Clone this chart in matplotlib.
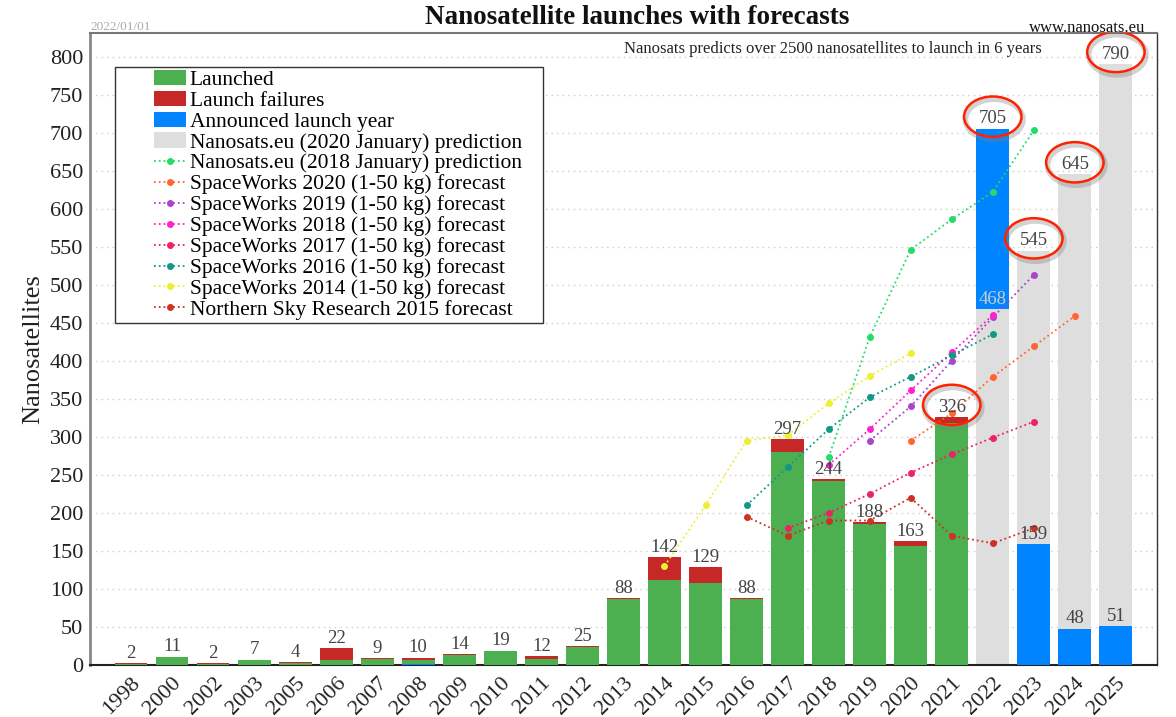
import numpy as np
import matplotlib
matplotlib.use("Agg")
import matplotlib.pyplot as plt
import matplotlib.patheffects as pe
from matplotlib.patches import Ellipse, Rectangle

plt.rcParams['font.family'] = ['Liberation Serif', 'DejaVu Serif']

years = ['1998', '2000', '2002', '2003', '2005', '2006', '2007', '2008', '2009',
         '2010', '2011', '2012', '2013', '2014', '2015', '2016', '2017', '2018',
         '2019', '2020', '2021', '2022', '2023', '2024', '2025']
launched = [1, 10, 1, 6, 3, 7, 8, 7, 13, 18, 8, 24, 87, 112, 108, 87, 280, 242,
            186, 157, 318, 0, 0, 0, 0]
failures = [1, 1, 1, 1, 1, 15, 1, 2, 1, 1, 4, 1, 1, 30, 21, 1, 17, 2, 2, 6, 8,
            0, 0, 0, 0]
announced = [0, 0, 0, 0, 0, 0, 0, 1, 0, 0, 0, 0, 0, 0, 0, 0, 0, 0, 0, 0, 0,
             705, 159, 48, 51]
predicted = [0] * 21 + [468, 545, 645, 790]

# forecast series, each starting at the given year
fc_nanosats18 = [273, 431, 546, 586, 622, 703]          # 2018-2023
fc_sw2020 = [295, 331, 379, 419, 459]                   # 2020-2024
fc_sw2019 = [295, 340, 400, 457, 513]                   # 2019-2023
fc_sw2018 = [263, 310, 361, 411, 460]                   # 2018-2022
fc_sw2017 = [180, 200, 225, 253, 277, 299, 320]         # 2017-2023
fc_sw2016 = [210, 260, 310, 352, 379, 407, 435]         # 2016-2022
fc_sw2014 = [130, 210, 295, 302, 344, 380, 410]         # 2014-2020
fc_nsr2015 = [195, 170, 190, 190, 220, 170, 160, 180]   # 2016-2023

forecasts = [
    ("Nanosats.eu (2018 January) prediction", "#22dd66", "2018", fc_nanosats18),
    ("SpaceWorks 2020 (1-50 kg) forecast", "#ff6633", "2020", fc_sw2020),
    ("SpaceWorks 2019 (1-50 kg) forecast", "#aa44cc", "2019", fc_sw2019),
    ("SpaceWorks 2018 (1-50 kg) forecast", "#ff22cc", "2018", fc_sw2018),
    ("SpaceWorks 2017 (1-50 kg) forecast", "#ee2266", "2017", fc_sw2017),
    ("SpaceWorks 2016 (1-50 kg) forecast", "#119988", "2016", fc_sw2016),
    ("SpaceWorks 2014 (1-50 kg) forecast", "#eeee33", "2014", fc_sw2014),
    ("Northern Sky Research 2015 forecast", "#cc3322", "2016", fc_nsr2015),
]
circled = ['2021', '2022', '2023', '2024', '2025']

GREEN, RED, BLUE, GREY = '#4caf50', '#c62828', '#0084ff', '#dedede'

x = np.arange(len(years))
launched = np.array(launched)
failures = np.array(failures)
announced = np.array(announced)
predicted = np.array(predicted)
past_total = launched + failures + announced

fig = plt.figure(figsize=(11.76, 7.17), dpi=100)
ax = fig.add_axes([0.0765, 0.0725, 0.9073, 0.8815])

w = 0.8
ax.bar(x, predicted, w, color=GREY, zorder=2, label="Nanosats.eu (2020 January) prediction")
ax.bar(x, launched, w, color=GREEN, zorder=3, label="Launched")
ax.bar(x, failures, w, bottom=launched, color=RED, zorder=3, label="Launch failures")
over = announced > predicted
ax.bar(x, announced - np.where(over, predicted, 0), w,
       bottom=np.where(over, predicted, launched + failures),
       color=BLUE, zorder=3, label="Announced launch year")

for label, col, start, vals in forecasts:
    i0 = years.index(start)
    xs = x[i0:i0 + len(vals)]
    ax.plot(xs, vals, linestyle=':', color=col, lw=1.3, marker='o',
            markersize=4, zorder=5, label=label)

# value labels
lab_kw = dict(ha='center', va='bottom', fontsize=13.5, color='#444444', zorder=6,
              textcoords='offset points', xytext=(0, 1))
tops = {}
for i, yr in enumerate(years):
    if predicted[i] == 0:
        tot = past_total[i]
        ax.annotate(str(tot), (i, tot), **lab_kw)
        tops[yr] = tot
    else:
        top = max(predicted[i], announced[i])
        ax.annotate(str(top), (i, top), **lab_kw)
        low = min(predicted[i], announced[i])
        kw = dict(lab_kw)
        if over[i]:
            kw['color'] = '#cccccc'
        ax.annotate(str(low), (i, low), **kw)
        tops[yr] = top

for yr in circled:
    i = years.index(yr)
    e = Ellipse((i, tops[yr] + 16), 1.4, 53, fill=False, edgecolor='#ff2200',
                lw=1.8, zorder=7,
                path_effects=[pe.SimpleLineShadow(offset=(1, -2), shadow_color='gray',
                                                  alpha=0.35, linewidth=4), pe.Normal()])
    ax.add_patch(e)

ax.set_xlim(-1, 25)
ax.set_ylim(0, 831)
ax.set_yticks(np.arange(0, 801, 50))
ax.set_xticks(x)
ax.set_xticklabels(years, rotation=45, ha='right', rotation_mode='anchor')
ax.tick_params(axis='both', length=0, labelsize=16, colors='#222222')
ax.tick_params(axis='x', pad=6)
ax.tick_params(axis='y', pad=5)
ax.yaxis.grid(True, linestyle=(0, (1, 3)), color='#cccccc', lw=1, zorder=0)
ax.set_axisbelow(True)
ax.set_ylabel("Nanosatellites", fontsize=19, color='#222222', labelpad=4)

ax.spines['left'].set_color('#888888')
ax.spines['left'].set_linewidth(2)
ax.spines['bottom'].set_color('#222222')
ax.spines['bottom'].set_linewidth(1.5)
ax.spines['top'].set_color('#777777')
ax.spines['top'].set_linewidth(1.5)
ax.spines['right'].set_color('#333333')
ax.spines['right'].set_linewidth(1)

# legend
handles, labels = ax.get_legend_handles_labels()
order = ["Launched", "Launch failures", "Announced launch year",
         "Nanosats.eu (2020 January) prediction"] + [f[0] for f in forecasts]
hmap = dict(zip(labels, handles))
leg = ax.legend([hmap[l] for l in order], order, loc='upper left',
                bbox_to_anchor=(0.06, 0.942), frameon=False, fontsize=15.5,
                handlelength=1.5, handleheight=0.7, handletextpad=0.15,
                labelspacing=0.04, borderpad=0.0, borderaxespad=0.0)
leg.set_zorder(10)
ax.add_patch(Rectangle((0.0234, 0.541), 0.4011, 0.405, transform=ax.transAxes,
                       facecolor='white', edgecolor='#333333', lw=1, zorder=9))

ax.text(0.696, 0.974, "Nanosats predicts over 2500 nanosatellites to launch in 6 years",
        transform=ax.transAxes, ha='center', va='center', fontsize=12, color='#222222')

fig.text(637 / 1176, 1 - 18 / 717, "Nanosatellite launches with forecasts",
         ha='center', va='center', fontsize=19.5, fontweight='bold', color='#111111')
fig.text(90 / 1176, 1 - 27 / 717, "2022/01/01", ha='left', va='center',
         fontsize=9.5, color='#aaaaaa')
fig.text(1145 / 1176, 1 - 28 / 717, "www.nanosats.eu", ha='right', va='center',
         fontsize=12, color='#111111')

fig.savefig("out.png", dpi=100)
